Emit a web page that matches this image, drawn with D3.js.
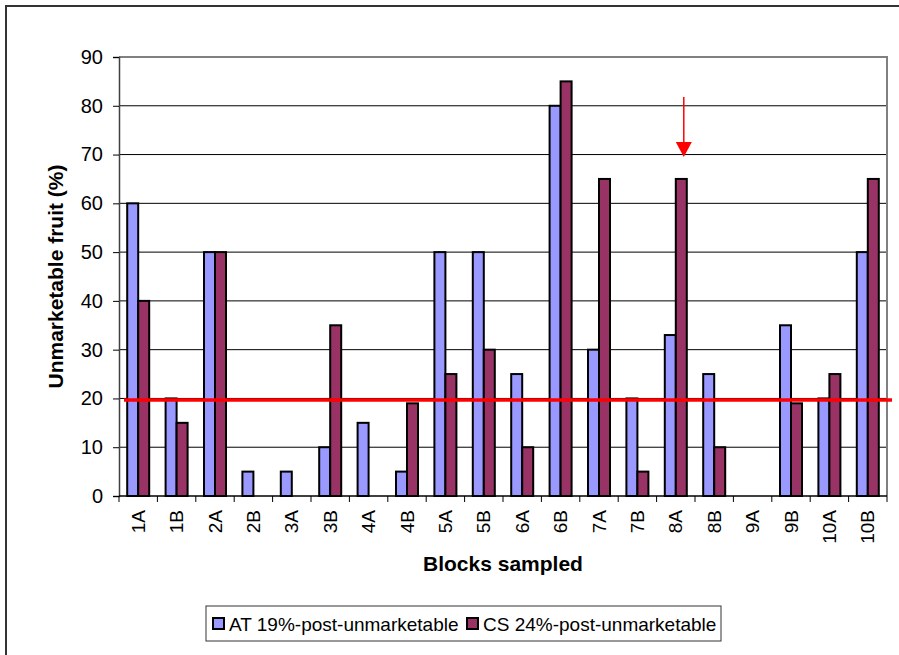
<!DOCTYPE html>
<html><head><meta charset="utf-8">
<script src="https://cdn.jsdelivr.net/npm/d3@7"></script>
<style>body{margin:0;background:#fff}svg{display:block;font-family:Arial,"Liberation Sans",sans-serif}</style>
</head><body>
<svg id="c" width="899" height="655"></svg>
<script>
const categories = ["1A","1B","2A","2B","3A","3B","4A","4B","5A","5B","6A","6B","7A","7B","8A","8B","9A","9B","10A","10B"];
const atValues = [60,20,50,5,5,10,15,5,50,50,25,80,30,20,33,25,0,35,20,50];
const csValues = [40,15,50,0,0,35,0,19,25,30,10,85,65,5,65,10,0,19,25,65];
const seriesNames = ["AT 19%-post-unmarketable","CS 24%-post-unmarketable"];
const yTicks = [0,10,20,30,40,50,60,70,80,90];
const thresholdValue = 19.7;
const arrowCategory = "8A";

const svg = d3.select("#c");
const L=119, R=887, T=57, B=496;
const colors = ["#9999FF","#993366"];

// outer frame
svg.append("rect").attr("x",6).attr("y",6).attr("width",920).attr("height",700)
  .attr("fill","none").attr("stroke","#333").attr("stroke-width",2);

const x = d3.scaleBand().domain(categories).range([L,R]).paddingInner(0).paddingOuter(0);
const y = d3.scaleLinear().domain([0,90]).range([B,T]);

// gridlines
svg.append("g").selectAll("line").data(yTicks.filter(d=>d>0)).join("line")
  .attr("x1",L).attr("x2",R).attr("y1",d=>y(d)).attr("y2",d=>y(d))
  .attr("stroke",d=>d===90?"#808080":"#000").attr("stroke-width",d=>d===90?2:1);
// right border
svg.append("line").attr("x1",R).attr("x2",R).attr("y1",T-1).attr("y2",B)
  .attr("stroke","#808080").attr("stroke-width",2);

// bars
const bw = 11;
const data = [];
categories.forEach((c,i)=>{
  data.push({c, s:0, v:atValues[i]});
  data.push({c, s:1, v:csValues[i]});
});
svg.append("g").selectAll("rect").data(data.filter(d=>d.v>0)).join("rect")
  .attr("x",d=>x(d.c)+x.bandwidth()/2 - bw + d.s*bw)
  .attr("y",d=>y(d.v))
  .attr("width",bw).attr("height",d=>B-y(d.v))
  .attr("fill",d=>colors[d.s]).attr("stroke","#000").attr("stroke-width",2);

// y axis
const ya = svg.append("g").attr("transform",`translate(${L},0)`)
  .call(d3.axisLeft(y).tickValues(yTicks).tickSize(6).tickPadding(10));
ya.select(".domain").attr("stroke","#404040").attr("stroke-width",1.5);
ya.selectAll(".tick line").attr("stroke","#000");
ya.selectAll("text").attr("font-size",20).attr("font-family","Arial, Liberation Sans, sans-serif").attr("fill","#000");

// x axis
const xa = svg.append("g").attr("transform",`translate(0,${B})`);
xa.append("line").attr("x1",L).attr("x2",R).attr("y1",0).attr("y2",0).attr("stroke","#000").attr("stroke-width",1.5);
xa.selectAll("line.t").data(d3.range(categories.length+1)).join("line").attr("class","t")
  .attr("x1",i=>L+i*x.step()).attr("x2",i=>L+i*x.step()).attr("y1",0).attr("y2",6).attr("stroke","#000");
xa.selectAll("text").data(categories).join("text")
  .attr("transform",d=>`translate(${x(d)+x.bandwidth()/2+6.5},14) rotate(-90)`)
  .attr("text-anchor","end").attr("font-size",19).text(d=>d);

// threshold line
svg.append("line").attr("x1",124).attr("x2",892).attr("y1",y(thresholdValue)).attr("y2",y(thresholdValue))
  .attr("stroke","#FF0000").attr("stroke-width",3.5);

// arrow
const ax = x(arrowCategory)+x.bandwidth()/2 + 8;
svg.append("line").attr("x1",ax).attr("x2",ax).attr("y1",97).attr("y2",145).attr("stroke","#FF0000").attr("stroke-width",1.5);
svg.append("path").attr("d",`M${ax-8},142 L${ax+8},142 L${ax},157 Z`).attr("fill","#FF0000");

// axis titles
svg.append("text").attr("transform",`translate(63,${(T+B)/2}) rotate(-90)`)
  .attr("text-anchor","middle").attr("font-size",21).attr("font-weight","bold").text("Unmarketable fruit (%)");
svg.append("text").attr("x",503).attr("y",571).attr("text-anchor","middle")
  .attr("font-size",21).attr("font-weight","bold").text("Blocks sampled");

// legend
svg.append("rect").attr("x",206).attr("y",606).attr("width",515).attr("height",35)
  .attr("fill","#fff").attr("stroke","#333").attr("stroke-width",1);
const lx = [213, 467];
seriesNames.forEach((n,i)=>{
  svg.append("rect").attr("x",lx[i]).attr("y",618).attr("width",11).attr("height",11)
    .attr("fill",colors[i]).attr("stroke","#000").attr("stroke-width",2);
  svg.append("text").attr("x",lx[i]+16).attr("y",631).attr("font-size",19).text(n);
});
</script>
</body></html>
